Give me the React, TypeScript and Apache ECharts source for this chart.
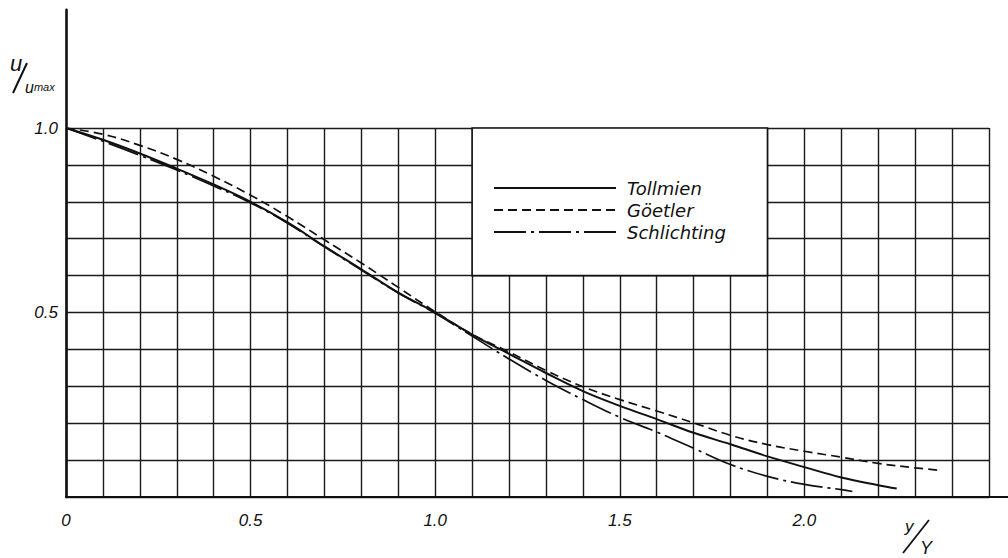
import React, { useEffect, useRef } from "react";
import * as echarts from "echarts";

// ---- data ----
const tollmienX = [0, 0.1, 0.2, 0.3, 0.4, 0.5, 0.6, 0.7, 0.8, 0.9, 1.0, 1.1, 1.2, 1.3, 1.4, 1.5, 1.6, 1.7, 1.8, 1.9, 2.0, 2.1, 2.2, 2.25];
const tollmienY = [1.0, 0.968, 0.931, 0.89, 0.847, 0.8, 0.744, 0.679, 0.617, 0.554, 0.5, 0.44, 0.388, 0.336, 0.287, 0.247, 0.211, 0.174, 0.143, 0.11, 0.081, 0.053, 0.032, 0.023];

const goetlerX = [0, 0.1, 0.2, 0.3, 0.4, 0.5, 0.6, 0.7, 0.8, 0.9, 1.0, 1.1, 1.2, 1.3, 1.4, 1.5, 1.6, 1.7, 1.8, 1.9, 2.0, 2.1, 2.2, 2.3, 2.37];
const goetlerY = [1.0, 0.983, 0.953, 0.915, 0.869, 0.818, 0.76, 0.697, 0.634, 0.568, 0.502, 0.441, 0.393, 0.343, 0.299, 0.264, 0.233, 0.201, 0.167, 0.142, 0.124, 0.108, 0.091, 0.079, 0.072];

const schlichtingX = [0, 0.1, 0.2, 0.3, 0.4, 0.5, 0.6, 0.7, 0.8, 0.9, 1.0, 1.1, 1.2, 1.3, 1.4, 1.5, 1.6, 1.7, 1.8, 1.9, 2.0, 2.1, 2.13];
const schlichtingY = [1.0, 0.964, 0.926, 0.886, 0.843, 0.797, 0.742, 0.678, 0.615, 0.553, 0.498, 0.436, 0.374, 0.316, 0.264, 0.216, 0.176, 0.132, 0.088, 0.056, 0.034, 0.02, 0.015];

const seriesNames = ["Tollmien", "Göetler", "Schlichting"];
const xTickLabels = ["0", "0.5", "1.0", "1.5", "2.0"];
const yTickLabels = ["0.5", "1.0"];
const legendBox = { x0: 1.1, x1: 1.9, y0: 0.6, y1: 1.0 };

const pairs = (xs: number[], ys: number[]) => xs.map((x, i) => [x, ys[i]]);

const INK = "#111";
const labelFont = { fontFamily: "Liberation Sans", fontStyle: "italic", fontSize: 17, color: INK };

export default function App() {
  const ref = useRef<HTMLDivElement>(null);

  useEffect(() => {
    if (!ref.current) return;
    const chart = echarts.init(ref.current, null, { renderer: "svg" });

    const gridLeft = 66;
    const unitX = 369.2;
    const gridTop = 128;
    const unitY = 369;
    const bottomY = gridTop + unitY;

    const option: any = {
      animation: false,
      backgroundColor: "#fff",
      grid: [
        { left: gridLeft, top: gridTop, width: 2.5 * unitX, height: unitY },
        { left: gridLeft, top: bottomY - 1.32 * unitY, width: 2.55 * unitX, height: 1.32 * unitY },
      ],
      xAxis: [
        {
          gridIndex: 0,
          type: "value",
          min: 0,
          max: 2.5,
          interval: 0.1,
          axisLine: { show: false },
          axisTick: { show: false },
          splitLine: { show: true, showMinLine: true, showMaxLine: true, lineStyle: { color: "#1a1a1a", width: 1.4 } },
          axisLabel: {
            ...labelFont,
            margin: 15,
            formatter: (v: number) => {
              const s = Math.abs(v) < 1e-9 ? "0" : v.toFixed(1);
              return xTickLabels.includes(s) ? s : "";
            },
          },
        },
        {
          gridIndex: 1,
          type: "value",
          min: 0,
          max: 2.55,
          axisLine: { show: true, lineStyle: { color: INK, width: 2.2 } },
          axisTick: { show: false },
          axisLabel: { show: false },
          splitLine: { show: false },
        },
      ],
      yAxis: [
        {
          gridIndex: 0,
          type: "value",
          min: 0,
          max: 1.0,
          interval: 0.1,
          axisLine: { show: false },
          axisTick: { show: false },
          splitLine: { show: true, showMinLine: true, showMaxLine: true, lineStyle: { color: "#1a1a1a", width: 1.4 } },
          axisLabel: {
            ...labelFont,
            margin: 8,
            formatter: (v: number) => {
              const s = v.toFixed(1);
              return yTickLabels.includes(s) ? s : "";
            },
          },
        },
        {
          gridIndex: 1,
          type: "value",
          min: 0,
          max: 1.32,
          axisLine: { show: true, lineStyle: { color: INK, width: 2.6 } },
          axisTick: { show: false },
          axisLabel: { show: false },
          splitLine: { show: false },
        },
      ],
      legend: {
        data: seriesNames,
        orient: "vertical",
        left: 488,
        top: 172,
        itemWidth: 122,
        itemHeight: 12,
        itemGap: 0,
        itemStyle: { opacity: 0 },
        textStyle: {
          fontFamily: "DejaVu Sans",
          fontStyle: "italic",
          fontSize: 18,
          lineHeight: 22,
          color: INK,
          padding: [0, 0, 0, 6],
        },
      },
      series: [
        {
          name: seriesNames[0],
          type: "line",
          xAxisIndex: 0,
          yAxisIndex: 0,
          data: pairs(tollmienX, tollmienY),
          smooth: 0.4,
          symbol: "none",
          itemStyle: { color: INK },
          lineStyle: { color: INK, width: 2, type: "solid" },
          z: 5,
          markArea: {
            silent: true,
            itemStyle: { color: "#fff", borderColor: INK, borderWidth: 1.6 },
            data: [[{ xAxis: legendBox.x0, yAxis: legendBox.y0 }, { xAxis: legendBox.x1, yAxis: legendBox.y1 }]],
          },
        },
        {
          name: seriesNames[1],
          type: "line",
          xAxisIndex: 0,
          yAxisIndex: 0,
          data: pairs(goetlerX, goetlerY),
          smooth: 0.4,
          symbol: "none",
          itemStyle: { color: INK },
          lineStyle: { color: INK, width: 1.7, type: [9, 5] },
          z: 5,
        },
        {
          name: seriesNames[2],
          type: "line",
          xAxisIndex: 0,
          yAxisIndex: 0,
          data: pairs(schlichtingX, schlichtingY),
          smooth: 0.4,
          symbol: "none",
          itemStyle: { color: INK },
          lineStyle: { color: INK, width: 1.7, type: [32, 5, 3, 5] },
          z: 5,
        },
      ],
      graphic: [
        { type: "text", left: 10, top: 52, style: { text: "u", font: "italic 22px 'Liberation Sans'", fill: INK } },
        { type: "line", shape: { x1: 13, y1: 93, x2: 27, y2: 63 }, style: { stroke: INK, lineWidth: 2 } },
        {
          type: "text",
          left: 25,
          top: 79,
          style: {
            text: "{a|u}{b|max}",
            rich: {
              a: { font: "italic 16px 'Liberation Sans'", fill: INK },
              b: { font: "italic 11px 'Liberation Sans'", fill: INK },
            },
          },
        },
        { type: "text", left: 905, top: 518, style: { text: "y", font: "italic 17px 'Liberation Sans'", fill: INK } },
        { type: "line", shape: { x1: 903, y1: 553, x2: 929, y2: 520 }, style: { stroke: INK, lineWidth: 1.8 } },
        { type: "text", left: 920, top: 539, style: { text: "Y", font: "italic 18px 'Liberation Sans'", fill: INK } },
      ],
    };

    chart.setOption(option);
    return () => chart.dispose();
  }, []);

  return <div ref={ref} style={{ position: "fixed", left: 0, top: 0, width: 1008, height: 558, background: "#fff" }} />;
}
